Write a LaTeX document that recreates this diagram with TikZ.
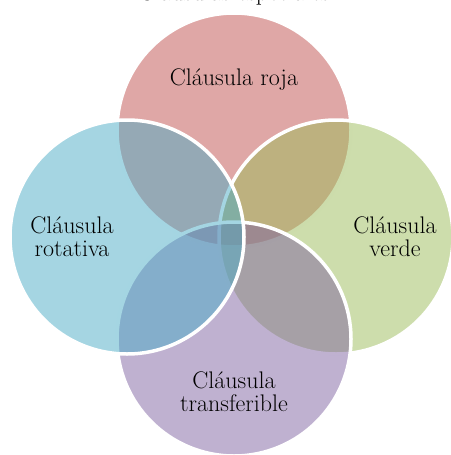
\documentclass[tikz,border=0pt]{standalone}
\usepackage{fontspec}
\begin{document}
\begin{tikzpicture}[x=1pt,y=-1pt,
  petal/.style={circle, minimum size=234pt, inner sep=0pt, draw=white, line width=3.5pt, fill opacity=0.5},
  caption/.style={align=center, font=\fontsize{24}{23}\selectfont, text=black}]
  \definecolor{cRed}{HTML}{C0504D}
  \definecolor{cGreen}{HTML}{9BBB59}
  \definecolor{cBlue}{HTML}{4BACC6}
  \definecolor{cPurple}{HTML}{8064A2}
  \useasboundingbox (0,0) rectangle (450,455);
  % title, mostly above the page edge
  \node[caption, anchor=base] (title) at (234,1) {Cláusulas especiales};
  % four overlapping circles
  \node[petal, fill=cRed]    (red)    at (234,130) {};
  \node[petal, fill=cGreen]  (green)  at (336,237) {};
  \node[petal, fill=cPurple] (purple) at (234,339) {};
  \node[petal, fill=cBlue]   (blue)   at (127,237) {};
  % labels
  \node[caption] (lred)    at (234,80)  {Cláusula roja};
  \node[caption] (lblue)   at (72,237)  {Cláusula\\rotativa};
  \node[caption] (lgreen)  at (395,237) {Cláusula\\verde};
  \node[caption] (lpurple) at (234,392) {Cláusula\\transferible};
\end{tikzpicture}
\end{document}
